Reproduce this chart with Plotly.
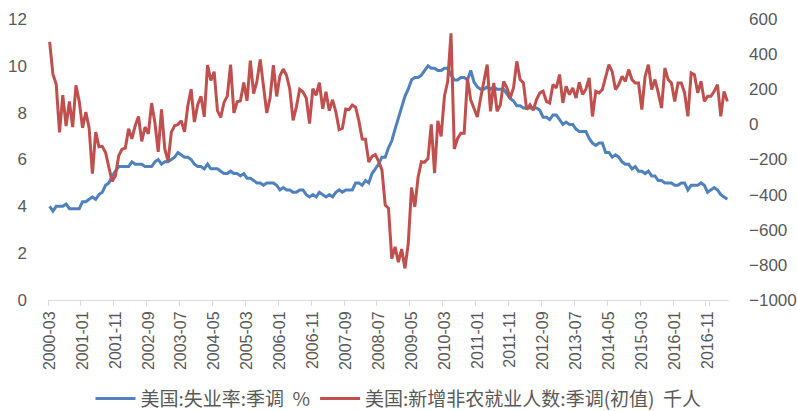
import plotly.graph_objects as go
import pandas as pd

# Monthly categories 2000-03 .. 2017-05
months = pd.period_range("2000-03", "2017-05", freq="M").strftime("%Y-%m").tolist()

tick_labels = ["2000-03", "2001-01", "2001-11", "2002-09", "2003-07", "2004-05",
               "2005-03", "2006-01", "2006-11", "2007-09", "2008-07", "2009-05",
               "2010-03", "2011-01", "2011-11", "2012-09", "2013-07", "2014-05",
               "2015-03", "2016-01", "2016-11"]

# Unemployment rate, SA (%), left axis
unemp_2000 = [4.0, 3.8, 4.0, 4.0, 4.0, 4.1, 3.9, 3.9, 3.9, 3.9]
unemp_2001 = [4.2, 4.2, 4.3, 4.4, 4.3, 4.5, 4.6, 4.9, 5.0, 5.3, 5.5, 5.7]
unemp_2002 = [5.7, 5.7, 5.7, 5.9, 5.8, 5.8, 5.8, 5.7, 5.7, 5.7, 5.9, 6.0]
unemp_2003 = [5.8, 5.9, 5.9, 6.0, 6.1, 6.3, 6.2, 6.1, 6.1, 6.0, 5.8, 5.7]
unemp_2004 = [5.7, 5.6, 5.8, 5.6, 5.6, 5.6, 5.5, 5.4, 5.4, 5.5, 5.4, 5.4]
unemp_2005 = [5.3, 5.4, 5.2, 5.2, 5.1, 5.0, 5.0, 4.9, 5.0, 5.0, 5.0, 4.9]
unemp_2006 = [4.7, 4.8, 4.7, 4.7, 4.6, 4.6, 4.7, 4.7, 4.5, 4.4, 4.5, 4.4]
unemp_2007 = [4.6, 4.5, 4.4, 4.5, 4.4, 4.6, 4.7, 4.6, 4.7, 4.7, 4.7, 5.0]
unemp_2008 = [5.0, 4.9, 5.1, 5.0, 5.4, 5.6, 5.8, 6.1, 6.1, 6.5, 6.8, 7.3]
unemp_2009 = [7.8, 8.3, 8.7, 9.0, 9.4, 9.5, 9.5, 9.6, 9.8, 10.0, 9.9, 9.9]
unemp_2010 = [9.8, 9.8, 9.9, 9.9, 9.6, 9.4, 9.4, 9.5, 9.5, 9.4, 9.8, 9.3]
unemp_2011 = [9.1, 9.0, 9.0, 9.1, 9.0, 9.1, 9.0, 9.0, 9.0, 8.8, 8.6, 8.5]
unemp_2012 = [8.3, 8.3, 8.2, 8.2, 8.2, 8.2, 8.2, 8.1, 7.8, 7.8, 7.7, 7.9]
unemp_2013 = [7.9, 7.7, 7.5, 7.6, 7.5, 7.5, 7.3, 7.2, 7.2, 7.2, 6.9, 6.7]
unemp_2014 = [6.6, 6.7, 6.7, 6.3, 6.3, 6.1, 6.2, 6.1, 5.9, 5.8, 5.8, 5.6]
unemp_2015 = [5.7, 5.5, 5.5, 5.4, 5.5, 5.3, 5.3, 5.1, 5.1, 5.0, 5.0, 5.0]
unemp_2016 = [4.9, 4.9, 5.0, 5.0, 4.7, 4.9, 4.9, 4.9, 5.0, 4.9, 4.6, 4.7]
unemp_2017 = [4.8, 4.7, 4.5, 4.4, 4.3]

# Nonfarm payroll change, SA (thousands), right axis
nfp_2000 = [470, 286, 228, -46, 166, -10, 130, -15, 222, 130]
nfp_2001 = [-20, 70, -20, -281, -44, -128, -125, -160, -244, -325, -292, -178]
nfp_2002 = [-142, -135, -25, -82, -8, 45, -97, -15, -54, 121, 9, -157]
nfp_2003 = [86, -140, -209, -44, -8, -1, 21, -42, 106, 200, 13, 112]
nfp_2004 = [160, 43, 337, 250, 300, 78, 40, 125, 161, 340, 65, 129]
nfp_2005 = [134, 239, 134, 363, 175, 245, 370, 210, 65, 150, 337, 159]
nfp_2006 = [277, 315, 280, 200, 23, 100, 200, 184, 150, 5, 204, 165]
nfp_2007 = [238, 88, 185, 78, 140, 71, -30, -22, 88, 84, 110, 98]
nfp_2008 = [20, -84, -85, -214, -182, -172, -210, -259, -459, -478, -765, -697]
nfp_2009 = [-785, -710, -820, -680, -360, -470, -300, -212, -215, -195, 0, -278]
nfp_2010 = [20, -68, 160, 245, 518, -140, -80, -50, -50, 262, 138, 90]
nfp_2011 = [42, 150, 252, 340, 74, 236, 74, 112, 245, 208, 150, 208]
nfp_2012 = [359, 255, 236, 84, 112, 80, 141, 179, 189, 131, 122, 227]
nfp_2013 = [208, 284, 122, 217, 169, 208, 150, 240, 170, 200, 265, 45]
nfp_2014 = [188, 179, 198, 274, 340, 300, 198, 227, 274, 245, 312, 255]
nfp_2015 = [236, 236, 84, 274, 340, 198, 255, 179, 93, 321, 255, 236]
nfp_2016 = [131, 236, 236, 179, 46, 293, 283, 179, 245, 131, 160, 160]
nfp_2017 = [188, 226, 46, 188, 131]

unemployment = (unemp_2000 + unemp_2001 + unemp_2002 + unemp_2003 + unemp_2004 +
                unemp_2005 + unemp_2006 + unemp_2007 + unemp_2008 + unemp_2009 +
                unemp_2010 + unemp_2011 + unemp_2012 + unemp_2013 + unemp_2014 +
                unemp_2015 + unemp_2016 + unemp_2017)
payrolls = (nfp_2000 + nfp_2001 + nfp_2002 + nfp_2003 + nfp_2004 + nfp_2005 +
            nfp_2006 + nfp_2007 + nfp_2008 + nfp_2009 + nfp_2010 + nfp_2011 +
            nfp_2012 + nfp_2013 + nfp_2014 + nfp_2015 + nfp_2016 + nfp_2017)

name_unemp = "美国:失业率:季调  %"
name_nfp = "美国:新增非农就业人数:季调(初值)  千人"

X_FONT = dict(family="Liberation Sans, Arial, sans-serif", size=16, color="#595959")
Y_FONT = dict(family="Liberation Sans, Arial, sans-serif", size=17, color="#595959")

fig = go.Figure()
fig.add_trace(go.Scatter(x=months, y=unemployment, name=name_unemp, mode="lines",
                         line=dict(color="#4F81BD", width=3)))
fig.add_trace(go.Scatter(x=months, y=payrolls, name=name_nfp, mode="lines", yaxis="y2",
                         line=dict(color="#C0504D", width=3)))

fig.update_layout(
    width=797, height=411,
    margin=dict(l=48, r=68, t=19, b=111, autoexpand=False),
    paper_bgcolor="white", plot_bgcolor="white",
    showlegend=True,
    legend=dict(orientation="h", xref="container", x=0.5, xanchor="center",
                yref="container", y=0.03, yanchor="middle", itemwidth=40,
                valign="middle", tracegroupgap=0,
                font=dict(family="Noto Sans CJK SC", size=19, color="#595959")),
    xaxis=dict(type="category", categoryorder="array", categoryarray=months,
               range=[-0.5, 206.5], tickmode="array", tickvals=tick_labels,
               ticktext=tick_labels, tickangle=-90, ticks="outside", ticklen=5,
               tickcolor="#D9D9D9", tickson="boundaries", showline=True,
               linecolor="#D9D9D9", linewidth=1, showgrid=False, zeroline=False,
               tickfont=X_FONT, ticklabelstandoff=4, automargin=False),
    yaxis=dict(range=[0, 12], tickmode="linear", tick0=0, dtick=2, showgrid=False,
               zeroline=False, showline=False, tickfont=Y_FONT,
               ticklabelstandoff=20, automargin=False),
    yaxis2=dict(range=[-1000, 600], tickmode="linear", tick0=-1000, dtick=200,
                overlaying="y", side="right", showgrid=False, zeroline=False,
                showline=False, tickfont=Y_FONT, ticklabelstandoff=19,
                automargin=False),
)

# remove the browser's default 8px body margin so the figure sits at the page origin
fig.write_html("out.html", config={"displayModeBar": False},
               post_script="document.body.style.margin='0';document.body.style.overflow='hidden';")
